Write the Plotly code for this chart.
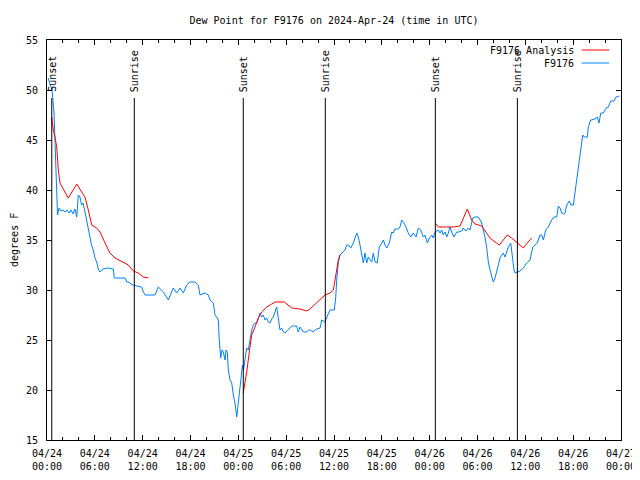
import pandas as pd
import plotly.graph_objects as go

# ---- data (hours after 2024-04-24 00:00 UTC) ----
start = pd.Timestamp("2024-04-24 00:00")

obs_hours = [0.13, 0.63, 0.88, 1.22, 1.32, 1.51, 1.76, 2.01, 2.26, 2.51, 2.76, 3.01, 3.26, 3.51, 3.73,
             3.93, 4.14, 4.33, 4.52, 4.77, 4.98, 5.21, 5.39, 5.58, 5.81, 6.02, 6.23, 6.46, 6.65, 7.02,
             7.65, 8.32, 8.44, 9.78, 10.00, 10.29, 10.54, 10.79, 11.29, 11.88, 12.04, 12.29, 13.55,
             13.96, 14.59, 15.22, 15.84, 16.27, 16.68, 17.10, 17.52, 17.94, 18.57, 18.98, 19.19, 19.82,
             20.23, 20.45, 20.86, 21.07, 21.36, 21.49, 21.61, 21.79, 21.95, 22.12, 22.33, 22.45, 22.62,
             22.74, 22.96, 23.17, 23.37, 23.58, 23.80, 24.00, 24.21, 24.42, 24.52, 24.65, 24.84, 25.05,
             25.25, 25.46, 25.68, 25.88, 26.09, 26.31, 26.51, 26.72, 26.93, 27.13, 27.35, 27.56, 27.76,
             27.97, 28.19, 28.39, 28.60, 28.81, 29.01, 29.23, 29.44, 29.64, 29.85, 30.07, 30.27, 30.48,
             30.70, 30.90, 31.32, 31.52, 31.74, 32.15, 32.58, 32.78, 32.99, 33.20, 33.41, 33.62, 33.83,
             34.25, 34.46, 34.66, 34.87, 35.21, 35.50, 36.04, 36.22, 36.34, 36.54, 36.75, 36.97, 37.38,
             37.59, 37.80, 38.10, 38.42, 38.85, 39.05, 39.26, 39.48, 39.68, 39.89, 40.10, 40.30, 40.52,
             40.73, 40.93, 41.14, 41.43, 41.68, 41.99, 42.19, 42.40, 42.61, 42.94, 43.24, 43.44, 43.65,
             44.07, 44.28, 44.49, 44.78, 45.03, 45.32, 45.62, 45.95, 46.29, 46.58, 46.88, 47.20, 47.42,
             47.71, 47.96, 48.26, 48.46, 48.67, 49.09, 49.30, 49.51, 49.71, 49.93, 50.14, 50.34, 50.55,
             50.77, 51.05, 51.39, 51.68, 52.02, 52.22, 52.56, 52.85, 53.06, 53.40, 53.69, 54.10, 54.32,
             54.53, 54.73, 54.94, 55.16, 55.36, 55.57, 55.78, 55.98, 56.20, 56.41, 56.61, 56.83, 57.04,
             57.24, 57.45, 57.67, 57.87, 58.17, 58.29, 58.42, 58.58, 58.71, 59.00, 59.33, 59.75, 60.17,
             60.59, 60.93, 61.22, 61.50, 61.84, 62.06, 62.26, 62.56, 62.88, 63.31, 63.60, 63.94, 64.14,
             64.35, 64.56, 64.77, 64.98, 65.19, 65.52, 65.73, 66.02, 66.23, 66.45, 66.65, 66.86, 67.07,
             67.20, 67.40, 67.78, 67.90, 68.20, 68.74, 69.03, 69.24, 69.46, 69.78, 70.12, 70.41, 70.71,
             71.13, 71.38, 71.79]
obs_values = [51.2, 50.0, 47.7, 40.3, 37.5, 38.2, 37.9, 38.0, 37.8, 38.0, 37.7, 38.0, 37.6, 38.1, 37.3,
              39.5, 39.3, 38.5, 38.7, 37.8, 37.0, 36.0, 35.3, 34.5, 34.0, 33.2, 32.8, 32.0, 31.8, 32.1,
              32.2, 32.1, 31.2, 31.2, 30.8, 30.8, 30.6, 30.5, 30.4, 30.3, 29.9, 29.5, 29.5,
              30.3, 29.8, 29.0, 30.2, 29.7, 30.2, 29.7, 30.5, 30.8, 30.8, 30.5, 29.5, 29.7,
              29.5, 29.0, 28.7, 27.5, 27.2, 27.0, 25.0, 23.2, 24.0, 23.8, 23.0, 24.0, 23.8,
              22.0, 21.0, 20.7, 19.5, 18.7, 17.3, 18.7, 19.7, 21.3, 22.5, 22.0, 23.3, 24.2,
              24.0, 25.0, 26.0, 26.5, 26.7, 26.7, 27.3, 27.7, 27.3, 27.5, 27.0, 27.2, 26.8,
              26.7, 27.1, 27.3, 27.8, 28.3, 27.2, 26.0, 26.2, 25.8, 25.7, 25.9, 26.0, 26.2,
              26.4, 26.4, 26.4, 25.8, 26.3, 25.8, 25.8, 26.0, 26.0, 25.9, 25.8, 26.0, 26.1,
              26.2, 27.0, 26.9, 26.8, 27.5, 28.0, 28.0, 29.3, 31.0, 32.7, 33.5, 33.7, 34.0,
              34.5, 34.5, 34.2, 34.7, 35.7, 35.3, 34.5, 33.7, 32.7, 33.7, 32.7, 33.3, 33.0,
              32.8, 33.7, 32.8, 32.7, 34.3, 34.7, 35.0, 34.5, 34.2, 34.7, 35.8, 35.7, 36.1,
              36.1, 36.3, 37.0, 36.7, 36.3, 35.7, 35.3, 35.7, 35.3, 36.2, 36.0, 35.3, 35.5,
              34.7, 35.2, 35.5, 35.2, 35.8, 36.0, 35.7, 36.0, 35.5, 35.8, 35.3, 35.7, 36.3,
              35.8, 35.3, 35.8, 35.8, 35.9, 36.2, 35.9, 36.2, 36.0, 37.2, 37.3, 37.3, 37.0,
              36.7, 36.0, 35.3, 34.2, 32.8, 32.0, 31.3, 30.8, 31.2, 31.8, 32.5, 33.2, 33.5,
              33.7, 33.3, 33.8, 34.3, 34.7, 33.8, 32.8, 32.0, 31.7, 31.8, 31.9, 32.2, 32.7,
              33.0, 34.3, 34.5, 34.7, 35.5, 35.5, 35.0, 36.0, 36.3, 37.0, 37.3, 37.3, 38.4,
              38.2, 37.7, 37.6, 37.7, 38.5, 38.9, 38.5, 38.5, 39.7, 41.0, 42.0, 43.5, 44.5,
              45.5, 45.3, 45.3, 46.3, 47.0, 47.1, 47.3, 46.7, 47.7, 47.7, 48.2, 48.3, 48.9,
              48.9, 49.3, 49.4]

ana_hours = [0.59, 0.79, 1.00, 1.22, 1.42, 1.63, 2.67, 3.73, 4.35, 4.77, 5.18, 5.61, 6.23, 6.65, 7.28,
             7.90, 8.53, 9.57, 10.20, 10.83, 11.45, 12.08, 12.71, None,
             24.62, 25.05, 25.46, 25.68, 26.09, 26.51, 26.93, 27.56, 28.19, 28.60, 29.77, 30.27, 30.70,
             31.74, 32.58, 32.99, 33.62, 34.25, 34.87, 35.50, 35.92, 36.13, 36.34, 36.54, 36.75, None,
             48.67, 49.09, 50.14, 50.97, 51.81, 52.72, 53.27, 53.69, 54.53, 54.94, 55.57, 56.20, 56.74,
             57.24, 57.74, 58.29, 59.00, 59.75, 60.25, 60.80]
ana_values = [47.3, 46.0, 45.3, 44.3, 42.0, 40.7, 39.2, 40.6, 39.8, 39.3, 38.0, 36.5, 36.2, 35.8, 34.7,
              33.7, 33.2, 32.8, 32.5, 31.9, 31.7, 31.3, 31.2, None,
              19.7, 21.8, 24.3, 25.5, 26.3, 27.2, 27.8, 28.3, 28.6, 28.8, 28.8, 28.5, 28.2,
              28.1, 27.9, 28.1, 28.6, 29.1, 29.5, 29.7, 30.0, 31.0, 32.2, 33.0, 33.5, None,
              36.7, 36.3, 36.3, 36.3, 36.4, 38.1, 37.0, 36.6, 36.4, 35.9, 35.2, 34.8, 34.5,
              35.0, 35.5, 35.2, 34.7, 34.2, 34.7, 35.2]

event_hours = [0.60, 10.95, 24.62, 34.91, 48.71, 59.00]
event_labels = ["Sunset", "Sunrise", "Sunset", "Sunrise", "Sunset", "Sunrise"]

series_names = ["F9176 Analysis", "F9176"]
series_colors = ["#ff0000", "#0080ff"]
y_tick_values = [15, 20, 25, 30, 35, 40, 45, 50, 55]
title_text = "Dew Point for F9176 on 2024-Apr-24 (time in UTC)"
y_title = "degrees F"


def to_time(h):
    return None if h is None else start + pd.Timedelta(hours=h)


FONT = "DejaVu Sans Mono"
# the page places the figure 8px in from the top-left corner
FIG_W, FIG_H = 632, 472

fig = go.Figure()
fig.add_trace(go.Scatter(x=[to_time(h) for h in obs_hours], y=obs_values, mode="lines",
                         line=dict(color=series_colors[1], width=1), name=series_names[1],
                         showlegend=False))
fig.add_trace(go.Scatter(x=[to_time(h) for h in ana_hours], y=ana_values, mode="lines",
                         line=dict(color=series_colors[0], width=1), name=series_names[0],
                         connectgaps=False, showlegend=False))

# sunrise / sunset markers
for h, lab in zip(event_hours, event_labels):
    t = to_time(h)
    fig.add_shape(type="line", xref="x", yref="y", x0=t, x1=t, y0=15, y1=49.2,
                  line=dict(color="black", width=1))
    fig.add_annotation(x=t, y=49.6, xref="x", yref="y", text=lab, textangle=-90,
                       showarrow=False, xanchor="center", yanchor="bottom",
                       font=dict(family=FONT, size=10, color="black"))

# legend (gnuplot style: text left of sample line)
leg_y = [0.975, 0.9425]
for name, col, yy in zip(series_names, series_colors, leg_y):
    fig.add_annotation(x=0.921, y=yy, xref="paper", yref="paper", text=name,
                       showarrow=False, xanchor="right", yanchor="middle",
                       font=dict(family=FONT, size=10, color="black"))
    fig.add_shape(type="line", xref="paper", yref="paper", x0=0.9315, x1=0.9796,
                  y0=yy, y1=yy, line=dict(color=col, width=1))

# y axis title
fig.add_annotation(x=-0.0575, y=0.5, xref="paper", yref="paper", text=y_title, textangle=-90,
                   showarrow=False, xanchor="center", yanchor="middle",
                   font=dict(family=FONT, size=10, color="black"))

fig.update_layout(
    width=FIG_W, height=FIG_H,
    margin=dict(l=39, r=19, t=32, b=40, autoexpand=False),
    paper_bgcolor="white", plot_bgcolor="white",
    font=dict(family=FONT, size=10, color="black"),
    title=dict(text=title_text, x=0.5, xref="paper", y=1 - 12 / FIG_H, yref="container",
               xanchor="center", yanchor="middle", font=dict(family=FONT, size=10)),
    showlegend=False,
)
fig.update_xaxes(
    range=[start, start + pd.Timedelta(hours=72)], automargin=False,
    dtick=6 * 3600 * 1000, tick0=start, tickformat="%m/%d<br>%H:%M",
    ticks="inside", ticklen=5, tickcolor="black", tickwidth=1,
    minor=dict(dtick=2 * 3600 * 1000, tick0=start, ticks="inside", ticklen=3,
               tickcolor="black", tickwidth=1, showgrid=False),
    showline=True, linecolor="black", linewidth=1, mirror="allticks",
    showgrid=False, zeroline=False, ticklabelstandoff=4,
)
fig.update_yaxes(
    range=[15, 55], tickvals=y_tick_values, automargin=False,
    ticks="inside", ticklen=5, tickcolor="black", tickwidth=1,
    showline=True, linecolor="black", linewidth=1, mirror="allticks",
    showgrid=False, zeroline=False, ticklabelstandoff=6,
)

fig.write_html("out.html")
